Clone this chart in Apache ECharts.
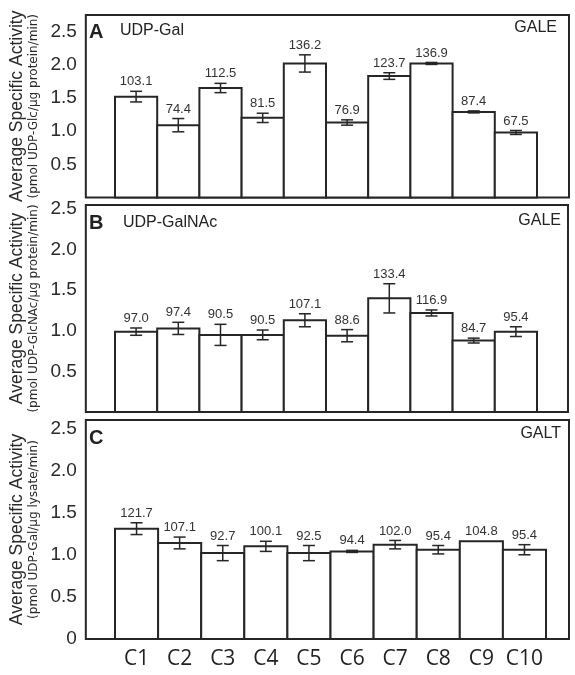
<!DOCTYPE html>
<html>
<head>
<meta charset="utf-8">
<script src="https://cdn.jsdelivr.net/npm/echarts@6/dist/echarts.min.js"></script>
<style>
html,body{margin:0;padding:0;background:#fff;}
#chart{width:575px;height:675px;}
</style>
</head>
<body>
<div id="chart"></div>
<script>
// ---------- data ----------
const categories = ['C1','C2','C3','C4','C5','C6','C7','C8','C9','C10'];

// Panel A: UDP-Gal (GALE)
const galValues = [1.52, 1.09, 1.65, 1.20, 2.02, 1.13, 1.83, 2.02, 1.29, 0.98];
const galErrors = [0.08, 0.10, 0.07, 0.07, 0.13, 0.04, 0.05, 0.015, 0.015, 0.03];
const galLabels = ['103.1','74.4','112.5','81.5','136.2','76.9','123.7','136.9','87.4','67.5'];

// Panel B: UDP-GalNAc (GALE)
const galnacValues = [0.99, 1.03, 0.95, 0.95, 1.13, 0.94, 1.40, 1.22, 0.88, 0.99];
const galnacErrors = [0.045, 0.075, 0.13, 0.06, 0.08, 0.075, 0.18, 0.037, 0.03, 0.06];
const galnacLabels = ['97.0','97.4','90.5','90.5','107.1','88.6','133.4','116.9','84.7','95.4'];

// Panel C: GALT
const galtValues = [1.31, 1.14, 1.02, 1.10, 1.02, 1.04, 1.12, 1.06, 1.16, 1.06];
const galtErrors = [0.07, 0.07, 0.09, 0.06, 0.09, 0.012, 0.05, 0.05, 0, 0.06];
const galtLabels = ['121.7','107.1','92.7','100.1','92.5','94.4','102.0','95.4','104.8','95.4'];

const yAxisUnitsA = '(pmol UDP-Glc/μg protein/min)';
const yAxisUnitsB = '(pmol UDP-GlcNAc/μg protein/min)';
const yAxisUnitsC = '(pmol UDP-Gal/μg lysate/min)';
const yAxisTitle = 'Average Specific Activity';

// ---------- chart ----------
const INK = '#262626';
const chart = echarts.init(document.getElementById('chart'));

function renderer(labels) {
  return function (params, api) {
    const i = api.value(0), v = api.value(1), e = api.value(2);
    const base = api.coord([i, 0]);
    const top = api.coord([i, v]);
    const hi = api.coord([i, v + e]);
    const lo = api.coord([i, v - e]);
    const bw = api.size([1, 0])[0];
    const cx = top[0];
    const children = [{
      type: 'rect',
      shape: { x: cx - bw / 2, y: top[1], width: bw, height: base[1] - top[1] },
      style: { fill: '#fff', stroke: INK, lineWidth: 2 }
    }];
    if (e > 0) {
      const cap = 6;
      children.push(
        { type: 'line', shape: { x1: cx, y1: hi[1], x2: cx, y2: lo[1] }, style: { stroke: INK, lineWidth: 1.5 } },
        { type: 'line', shape: { x1: cx - cap, y1: hi[1], x2: cx + cap, y2: hi[1] }, style: { stroke: INK, lineWidth: 1.5 } },
        { type: 'line', shape: { x1: cx - cap, y1: lo[1], x2: cx + cap, y2: lo[1] }, style: { stroke: INK, lineWidth: 1.5 } }
      );
    }
    children.push({
      type: 'text',
      x: cx, y: hi[1] - 3,
      style: {
        text: labels[params.dataIndex], fill: '#333',
        font: '13px "Liberation Sans", Arial, sans-serif',
        textAlign: 'center', textVerticalAlign: 'bottom'
      }
    });
    return { type: 'group', children };
  };
}

const panels = [
  { top: 15, height: 182.5, frameRight: 6, dataRight: 38, max: 2.75, units: yAxisUnitsA, showZero: false,
    values: galValues, errors: galErrors, labels: galLabels, showX: false },
  { top: 205, height: 207, frameRight: 7, dataRight: 38, max: 2.55, units: yAxisUnitsB, showZero: false,
    values: galnacValues, errors: galnacErrors, labels: galnacLabels, showX: false },
  { top: 420, height: 219, frameRight: 6, dataRight: 29, max: 2.6, units: yAxisUnitsC, showZero: true,
    values: galtValues, errors: galtErrors, labels: galtLabels, showX: true }
];

const grid = [], xAxis = [], yAxis = [], series = [];
panels.forEach((p, k) => {
  grid.push({ left: 84, right: p.frameRight, top: p.top, height: p.height, show: true,
    borderColor: INK, borderWidth: 2, backgroundColor: 'transparent', containLabel: false });
  grid.push({ left: 115, right: p.dataRight, top: p.top, height: p.height, show: false, containLabel: false });
  const fi = 2 * k, di = 2 * k + 1;
  xAxis.push({ gridIndex: fi, type: 'value', show: false });
  xAxis.push({ gridIndex: di, type: 'category', data: categories, boundaryGap: true,
    axisLine: { show: false }, axisTick: { show: false }, splitLine: { show: false },
    axisLabel: { show: p.showX, interval: 0, hideOverlap: false, fontSize: 21, fontFamily: '"Open Sans", sans-serif', color: '#222', margin: 10 } });
  yAxis.push({ gridIndex: fi, type: 'value', min: 0, max: p.max, interval: 0.5,
    axisLine: { show: false }, axisTick: { show: false }, splitLine: { show: false },
    axisLabel: {
      fontSize: 19, fontFamily: '"Liberation Sans", Arial, sans-serif', color: '#2a2a2a', margin: 9,
      formatter: function (v) {
        const r = v / 0.5;
        if (Math.abs(r - Math.round(r)) > 1e-6) return '';
        if (v === 0) return p.showZero ? '0' : '';
        return v.toFixed(1);
      }
    },
    name: '{a|' + yAxisTitle + '}\n{b|' + p.units + '}',
    nameLocation: 'middle', nameRotate: 90, nameGap: 44,
    nameTextStyle: {
      color: '#2a2a2a',
      rich: {
        a: { fontSize: 17.5, fontFamily: '"Liberation Sans", Arial, sans-serif', lineHeight: 19, color: '#2a2a2a', align: 'center' },
        b: { fontSize: 12, fontFamily: '"DejaVu Sans", sans-serif', lineHeight: 14, color: '#2a2a2a', align: 'center' }
      }
    }
  });
  yAxis.push({ gridIndex: di, type: 'value', min: 0, max: p.max, show: false, splitLine: { show: false } });
  series.push({
    type: 'custom', xAxisIndex: di, yAxisIndex: di, coordinateSystem: 'cartesian2d',
    data: p.values.map((v, i) => [i, v, p.errors[i]]),
    encode: { x: 0, y: 1 },
    renderItem: renderer(p.labels), clip: false, silent: true
  });
});

const FONT = '"Liberation Sans", Arial, sans-serif';
function txt(x, y, text, size, weight, align) {
  return { type: 'text', x: x, y: y, style: { text: text, fill: '#222',
    font: (weight || 'normal') + ' ' + size + 'px ' + FONT,
    textAlign: align || 'left', textVerticalAlign: 'middle' } };
}

chart.setOption({
  animation: false,
  backgroundColor: '#fff',
  grid, xAxis, yAxis, series,
  graphic: [
    txt(89, 32, 'A', 20, 'bold'), txt(120, 31, 'UDP-Gal', 16),
    txt(557, 28, 'GALE', 16, 'normal', 'right'),
    txt(89, 223, 'B', 20, 'bold'), txt(123, 223, 'UDP-GalNAc', 16),
    txt(561, 221, 'GALE', 16, 'normal', 'right'),
    txt(89, 438, 'C', 20, 'bold'),
    txt(561, 434, 'GALT', 16, 'normal', 'right')
  ]
});
</script>
</body>
</html>
